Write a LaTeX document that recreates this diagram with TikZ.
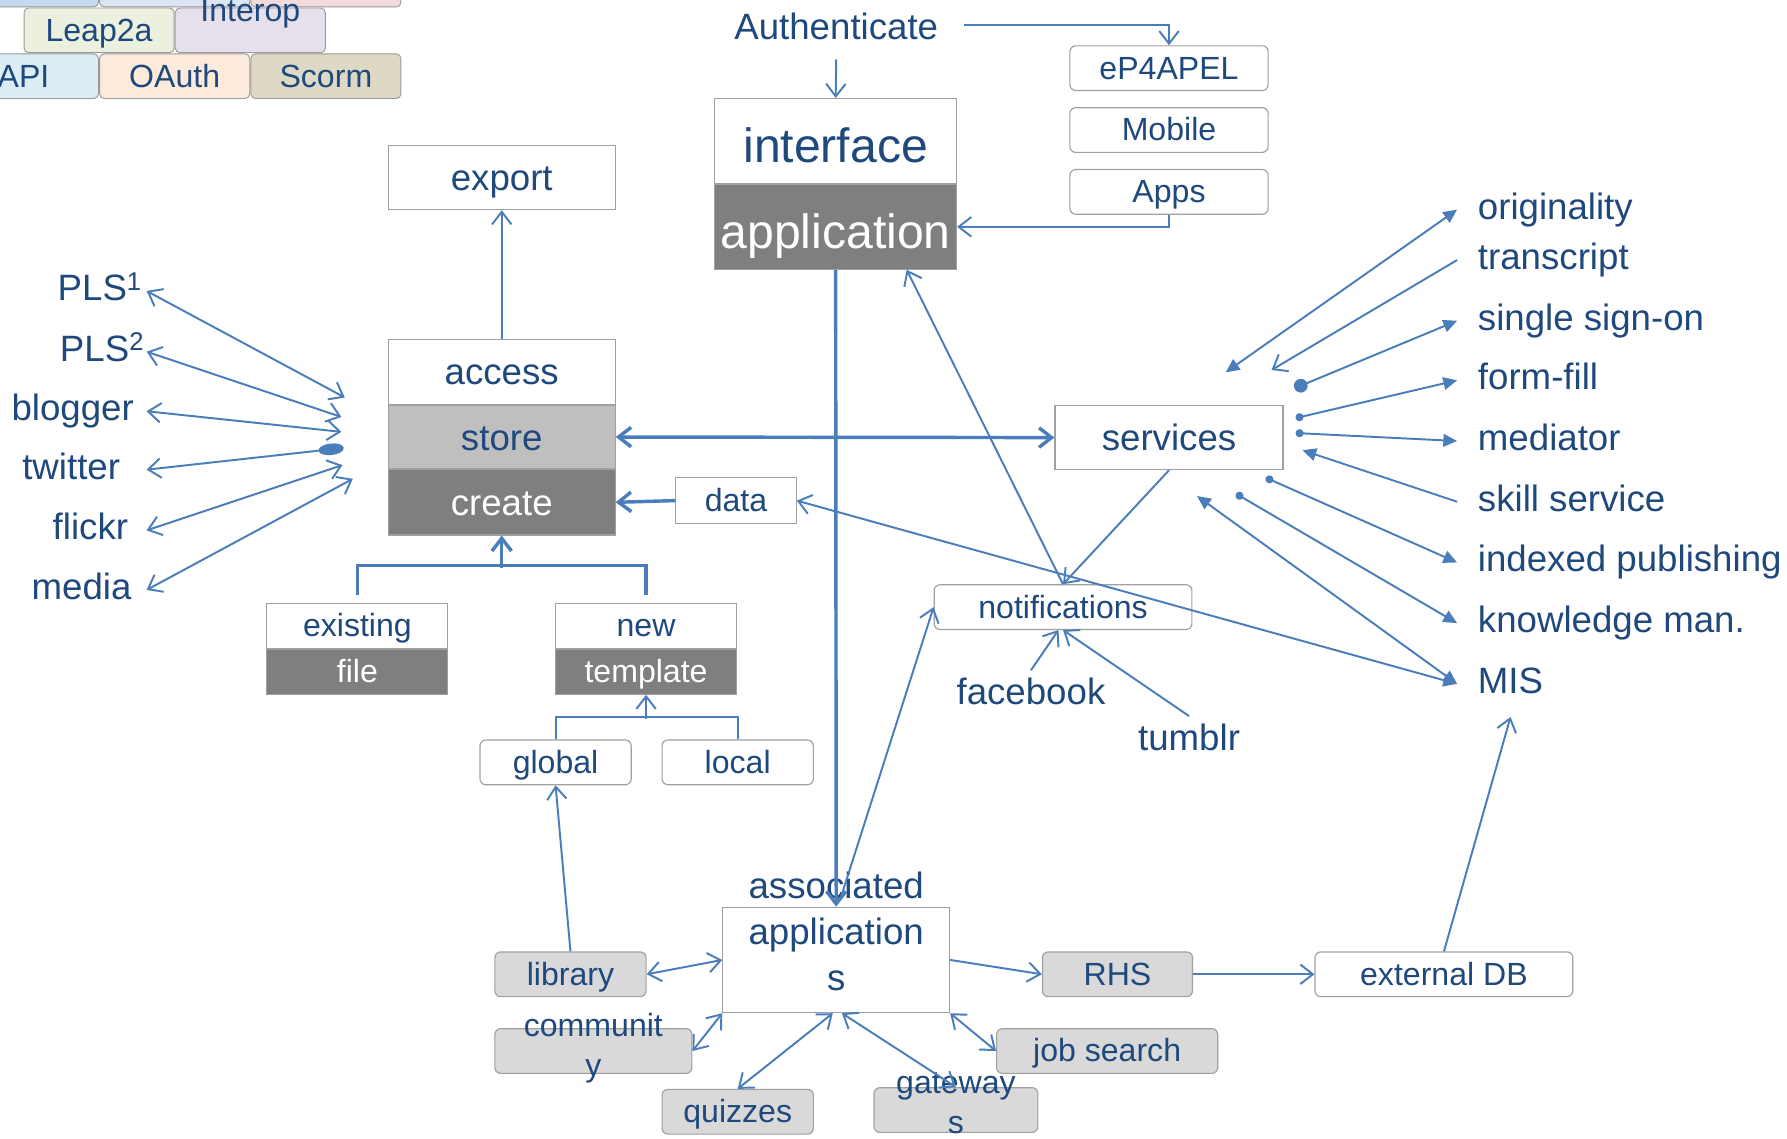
\documentclass[tikz,border=0pt]{standalone}
\usepackage{fontspec}
\setmainfont{Liberation Sans}
\usetikzlibrary{positioning,arrows.meta}
\definecolor{txtblue}{HTML}{1F497D}
\definecolor{lineblue}{HTML}{4A7EBB}
\definecolor{edgegray}{HTML}{A0A0A0}
\definecolor{storegray}{HTML}{BFBFBF}
\definecolor{appgray}{HTML}{7F7F7F}
\definecolor{boxgray}{HTML}{D9D9D9}
\definecolor{brickedge}{HTML}{999999}
\definecolor{brA}{HTML}{C6D9F1}
\definecolor{brB}{HTML}{DCE6F2}
\definecolor{brC}{HTML}{F2DCDB}
\definecolor{brD}{HTML}{EBF1DE}
\definecolor{brE}{HTML}{E5E0EC}
\definecolor{brF}{HTML}{DBEEF4}
\definecolor{brG}{HTML}{FDEADA}
\definecolor{brH}{HTML}{DDD9C4}
\tikzset{
  every node/.style={text=txtblue, inner sep=0pt},
  f28/.style={font=\fontsize{28}{35}\selectfont},
  f32/.style={font=\fontsize{32}{40}\selectfont},
  t28/.style={f28, text height=24pt, text depth=5pt},
  t32/.style={f32, text height=30pt, text depth=7pt},
  t42/.style={font=\fontsize{42}{50}\selectfont, text height=40pt, text depth=2pt},
  sqbox/.style={draw=edgegray, line width=1pt, fill=white, minimum height=39pt},
  rbox/.style={sqbox, rounded corners=5pt},
  gbox/.style={rbox, fill=boxgray},
  brick/.style={draw=brickedge, line width=0.8pt, rounded corners=4pt, minimum width=131pt, minimum height=39pt, t28},
  lbl/.style={f32, text height=24pt, text depth=7.4pt},
  wire/.style={draw=lineblue, line width=1.7pt},
  bus/.style={draw=lineblue, line width=3pt},
  opn/.tip={Straight Barb[length=11pt,width=17pt]},
  tri/.tip={Triangle[length=12pt,width=11pt]},
  sdot/.tip={Circle[length=7pt]},
  bdot/.tip={Circle[length=12pt]},
  oval/.tip={Ellipse[length=22pt,width=10pt]}
}
\begin{document}
\begin{tikzpicture}[x=1pt,y=-1pt,node distance=0pt]
\useasboundingbox (0,0) rectangle (1560,994);
\foreach \n/\x/\y/\c/\t in {b1/20.5/-13.5/brA/{}, b2/152.5/-13.5/brB/{}, b3/284.5/-13.5/brC/{},
  leap/86.5/26.5/brD/Leap2a, interop/218.5/26.5/brE/{},
  api/20.5/66.5/brF/API, oauth/152.5/66.5/brG/OAuth, scorm/284.5/66.5/brH/Scorm}
  \node[brick, fill=\c] (\n) at (\x,\y) {\t};
\node[f28, anchor=base] (interoptxt) at (218.5,19) {Interop};

\node[lbl, inner xsep=22pt, inner ysep=10pt] (auth) at (730,26) {Authenticate};
\node[sqbox, t42, minimum width=211pt, minimum height=74pt] (interface) at (729.5,123) {interface};
\node[sqbox, t42, fill=appgray, text=white, minimum width=211pt, minimum height=74pt, below=of interface] (application) {application};
\node[rbox, t28, minimum width=173pt] (ep4) at (1020.5,59.5) {eP4APEL};
\node[rbox, t28, minimum width=173pt, below=14pt of ep4] (mobile) {Mobile};
\node[rbox, t28, minimum width=173pt, below=14pt of mobile] (apps) {Apps};

\node[sqbox, t32, minimum width=198pt, minimum height=56pt] (export) at (438,155) {export};
\node[sqbox, t32, minimum width=198pt, minimum height=57pt] (access) at (438,324.5) {access};
\node[sqbox, t32, fill=storegray, minimum width=198pt, minimum height=55pt, below=of access] (store) {store};
\node[sqbox, t32, fill=appgray, text=white, minimum width=198pt, minimum height=57pt, below=of store] (create) {create};
\node[sqbox, t28, minimum width=105pt, minimum height=40pt] (data) at (642.5,437) {data};
\node[sqbox, t32, minimum width=199pt, minimum height=56pt] (services) at (1020.5,382) {services};

\node[sqbox, t28, minimum width=158pt] (existing) at (312,546.5) {existing};
\node[sqbox, t28, fill=appgray, text=white, minimum width=158pt, below=of existing] (file) {file};
\node[sqbox, t28, minimum width=158pt] (new) at (564,546.5) {new};
\node[sqbox, t28, fill=appgray, text=white, minimum width=158pt, below=of new] (template) {template};
\node[rbox, t28, minimum width=132pt] (global) at (485,665.5) {global};
\node[rbox, t28, minimum width=132pt] (local) at (644,665.5) {local};

\node[rbox, t28, minimum width=225pt] (notif) at (928,530) {notifications};
\node[lbl, inner ysep=6pt] (fb) at (900,607) {facebook};
\node[lbl, inner ysep=6pt] (tumblr) at (1038,647) {tumblr};

\node[sqbox, minimum width=198pt, minimum height=92pt] (assoc) at (730,838) {};
\node[f32, align=center] (assoctxt) at (730,813) {associated\\application\\s};
\node[gbox, t28, minimum width=132pt] (library) at (498,850.5) {library};
\node[gbox, minimum width=172pt] (comm) at (518,917.5) {};
\node[f28, align=center] (commtxt) at (518,915) {communit\\y};
\node[gbox, t28, minimum width=132pt] (quiz) at (644,970.5) {quizzes};
\node[gbox, minimum width=143pt] (gate) at (834.5,969) {};
\node[f28, align=center] (gatetxt) at (834.5,963) {gateway\\s};
\node[gbox, t28, minimum width=193pt] (jobs) at (966.5,917.5) {job search};
\node[gbox, t28, minimum width=131pt] (rhs) at (975.5,850.5) {RHS};
\node[rbox, t28, minimum width=225pt] (extdb) at (1260.5,850.5) {external DB};

\foreach \n/\y/\s/\t in {pls1/254/4/PLS\textsuperscript{1}, pls2/307/2/PLS\textsuperscript{2}, blog/359/11/blogger,
  twit/410/23/twitter, flick/463/16/flickr, media/515/13/media}
  \node[lbl, anchor=east, inner xsep=\s pt] (\n) at (128,\y) {\t};
\foreach \n/\y/\t in {orig/183/originality, trans/227/transcript, sso/280/single sign-on, form/332/form-fill,
  med/385/mediator, skill/438/skill service, idx/491/indexed publishing, know/544/knowledge man., mis/597/MIS}
  \node[lbl, anchor=west, inner xsep=18pt] (\n) at (1272,\y) {\t};

\coordinate (f1) at (301,347); \coordinate (f2) at (298,364); \coordinate (f3) at (298,377);
\coordinate (f4) at (300,391); \coordinate (f5) at (299,406); \coordinate (f6) at (308,418);
\coordinate (s1) at (1070,325); \coordinate (s2) at (1110,323); \coordinate (s3) at (1130,339);
\coordinate (s4) at (1131,365); \coordinate (s5) at (1131,378); \coordinate (s6) at (1137,393);
\coordinate (s7) at (1105,417); \coordinate (s8) at (1079,431); \coordinate (s9) at (1045,433);

\draw[wire,opn-opn] (pls1.east) -- (f1);
\draw[wire,opn-opn] (pls2.east) -- (f2);
\draw[wire,opn-opn] (blog.east) -- (f3);
\draw[wire,opn-oval] (twit.east) -- (f4);
\draw[wire,opn-opn] (flick.east) -- (f5);
\draw[wire,opn-opn] (media.east) -- (f6);

\draw[wire,tri-tri] (s1) -- (orig.west);
\draw[wire,-opn] (trans.west) -- (s2);
\draw[wire,bdot-tri] (s3) -- (sso.west);
\draw[wire,sdot-tri] (s4) -- (form.west);
\draw[wire,sdot-tri] (s5) -- (med.west);
\draw[wire,-tri] (skill.west) -- (s6);
\draw[wire,sdot-tri] (s7) -- (idx.west);
\draw[wire,sdot-tri] (s8) -- (know.west);
\draw[wire,tri-tri] (s9) -- (mis.west);
\draw[wire,opn-tri] (data.east) -- (mis.west);

\draw[wire,-opn] (auth.south) -- (interface.north);
\draw[wire,-opn] ([yshift=4pt]auth.east) -| (ep4.north);
\draw[wire,-opn] (apps.south) |- (application.east);
\draw[bus,-opn] (application.south) -- (assoc.north);
\draw[wire,-opn] (notif.north) -- ([xshift=62pt]application.south);
\draw[wire,-opn] (services.south) -- (notif.north);
\draw[wire,-opn] ([xshift=4pt,yshift=8pt]assoc.north) -- (notif.west);
\draw[wire,-opn] (fb.north) -- ([xshift=-4pt]notif.south);
\draw[wire,-opn] (tumblr.north) -- (notif.south);
\draw[bus,opn-opn] (store.east) -- (services.west);
\draw[bus,-opn] (data.west) -- (create.east);
\draw[wire,-opn] (access.north) -- (export.south);
\draw[bus] ([yshift=7pt]existing.north) -- ++(0,-26) -| ([yshift=7pt]new.north);
\draw[bus,-opn] ([yshift=-28pt]create.south) -- (create.south);
\draw[wire] (global.north) -- ++(0,-20) -| (local.north);
\draw[wire,-opn] ([yshift=-21pt]template.south) -- (template.south);
\draw[wire,-opn] (library.north) -- (global.south);

\draw[wire,opn-opn] (library.east) -- (assoc.west);
\draw[wire,opn-opn] (comm.east) -- (assoc.south west);
\draw[wire,opn-opn] (quiz.north) -- ([xshift=-3pt]assoc.south);
\draw[wire,opn-opn] (gate.north) -- ([xshift=5pt]assoc.south);
\draw[wire,opn-opn] (jobs.west) -- (assoc.south east);
\draw[wire,-opn] (assoc.east) -- (rhs.west);
\draw[wire,-opn] (rhs.east) -- (extdb.west);
\draw[wire,-opn] (extdb.north) -- ([yshift=-13pt]mis.south);
\end{tikzpicture}
\end{document}
